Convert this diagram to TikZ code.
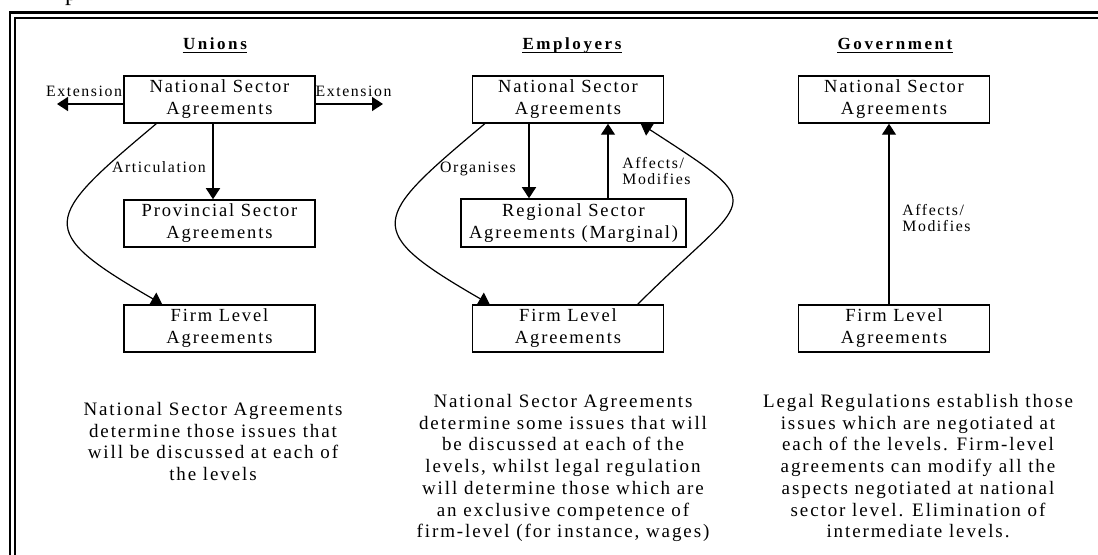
\documentclass[tikz,border=0pt]{standalone}
\usepackage{fontspec}
\setmainfont{Liberation Serif}[LetterSpace=10]
\usetikzlibrary{calc,arrows.meta}
\tikzset{>={Triangle[length=5.5pt,width=7pt]}}
\tikzset{
  box/.style={draw,line width=0.75pt,minimum width=95.5pt,minimum height=23.5pt,align=center,inner sep=0pt,font=\fontsize{9.25}{11}\selectfont},
  lbl/.style={inner sep=0pt,font=\fontsize{7.9}{8.3}\selectfont},
  ttl/.style={inner sep=0pt,anchor=base,font=\fontsize{8.5}{10}\selectfont\bfseries\addfontfeature{LetterSpace=15}},
  txt/.style={inner sep=0pt,anchor=north,align=center,font=\fontsize{9.5}{10.85}\selectfont},
  arr/.style={->,line width=0.7pt},
  crv/.style={->,line width=0.6pt},
}

\begin{document}
\begin{tikzpicture}[x=0.5pt,y=0.5pt]
  \useasboundingbox (0,0) rectangle (1098,-555);
  \clip (0,0) rectangle (1098,-555);

  \node[anchor=base,inner sep=0pt,font=\fontsize{12}{14}\selectfont] at (71,-1) (frag) {p};
  \draw[line width=1.1pt] (10.3,-12.5) rectangle (1130,-600);
  \draw[line width=1.1pt] (15.3,-18) rectangle (1130,-600);

  % unions
  \node[ttl] at (215,-50) (tu) {Unions};
  \draw[line width=0.8pt] ($(tu.base west)+(0,-2.5)$) -- ($(tu.base east)+(0,-2.5)$);
  \node[box] at (219.5,-99.5) (unat) {National Sector\\Agreements};
  \node[box] at (219.5,-223.5) (uprov) {Provincial Sector\\Agreements};
  \node[box] at (219.5,-328.5) (ufirm) {Firm Level\\Agreements};
  \coordinate (extl) at (57,-104);
  \coordinate (extr) at (383,-104);
  \draw[arr] (unat.west |- extl) -- (extl);
  \draw[arr] (unat.east |- extr) -- (extr);
  \node[lbl,anchor=base] at (84,-97) (xl) {Extension};
  \node[lbl,anchor=base] at (353.5,-97) (xr) {Extension};
  \draw[arr] ($(unat.south)+(-6.5,0)$) coordinate (u1) -- (u1 |- uprov.north);
  \draw[crv] ($(unat.south west)+(33,0)$) to[out=220,in=150,looseness=2.1] ($(ufirm.north west)+(39,0)$);
  \node[lbl,anchor=base] at (159,-173) (lu) {Articulation};

  % employers
  \node[ttl] at (572,-50) (te) {Employers};
  \draw[line width=0.8pt] ($(te.base west)+(0,-2.5)$) -- ($(te.base east)+(0,-2.5)$);
  \node[box] at (568,-99.5) (enat) {National Sector\\Agreements};
  \node[box,minimum width=112.5pt,minimum height=24pt] at (573.5,-223) (ereg) {Regional Sector\\Agreements (Marginal)};
  \node[box] at (568,-328.5) (efirm) {Firm Level\\Agreements};
  \draw[arr] ($(enat.south)+(-39,0)$) coordinate (e1) -- (e1 |- ereg.north);
  \draw[arr] ($(ereg.north)+(34.5,0)$) coordinate (e2) -- (e2 |- enat.south);
  \draw[crv] ($(enat.south west)+(13,0)$) to[out=220,in=150,looseness=2.1] ($(efirm.north west)+(18,0)$);
  \draw[crv] ($(efirm.north west)+(166,0)$) to[out=45,in=-33,looseness=2.25] ($(enat.south west)+(169,0)$);
  \node[lbl,anchor=base] at (478,-173) (lo) {Organises};
  \node[lbl,align=left,anchor=west] at (622,-171) (la) {Affects/\\Modifies};

  % government
  \node[ttl] at (895,-50) (tg) {Government};
  \draw[line width=0.8pt] ($(tg.base west)+(0,-2.5)$) -- ($(tg.base east)+(0,-2.5)$);
  \node[box] at (894,-99.5) (gnat) {National Sector\\Agreements};
  \node[box] at (894,-328.5) (gfirm) {Firm Level\\Agreements};
  \draw[arr] ($(gfirm.north)+(-5,0)$) coordinate (g1) -- (g1 |- gnat.south);
  \node[lbl,align=left,anchor=west] at (902,-218) (lg) {Affects/\\Modifies};

  \node[txt] at (213,-402) (du) {National Sector Agreements\\determine those issues that\\will be discussed at each of\\the levels};
  \node[txt] at (563,-394) (de) {National Sector Agreements\\determine some issues that will\\be discussed at each of the\\levels, whilst legal regulation\\will determine those which are\\an exclusive competence of\\firm-level (for instance, wages)};
  \node[txt] at (918,-394) (dg) {Legal Regulations establish those\\issues which are negotiated at\\each of the levels. Firm-level\\agreements can modify all the\\aspects negotiated at national\\sector level. Elimination of\\intermediate levels.};
\end{tikzpicture}
\end{document}
